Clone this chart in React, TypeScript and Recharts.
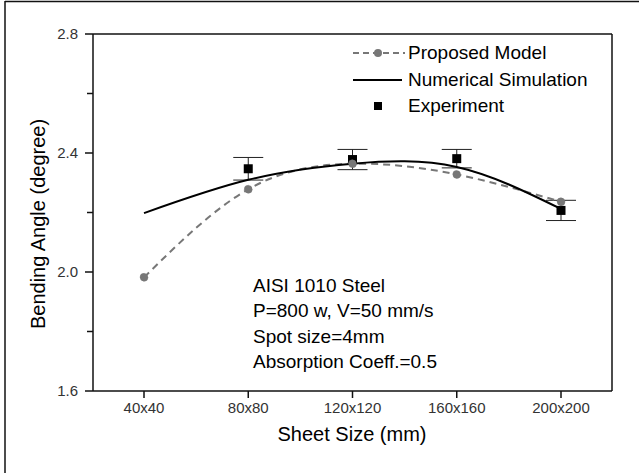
import { CartesianGrid, ComposedChart, ErrorBar, Legend, Line, Scatter, XAxis, YAxis } from 'recharts'

const sizes = ['40x40', '80x80', '120x120', '160x160', '200x200']
const proposed = [1.982, 2.278, 2.364, 2.328, 2.236]
const simulation = [2.198, 2.31, 2.364, 2.353, 2.212]
const experiment = [null, 2.347, 2.378, 2.381, 2.207]
const experimentErr = [null, 0.038, 0.034, 0.031, 0.034]
const yTicks = [1.6, 1.8, 2.0, 2.2, 2.4, 2.6, 2.8]
const notes = ['AISI 1010 Steel', 'P=800 w, V=50 mm/s', 'Spot size=4mm', 'Absorption Coeff.=0.5']

const data = sizes.map((size, i) => ({
  size,
  proposed: proposed[i],
  simulation: simulation[i],
  experiment: experiment[i],
  err: experimentErr[i],
}))

const font = "'Liberation Sans', Arial, sans-serif"
const axisStroke = { stroke: '#111', strokeWidth: 1.5 }
const grey = '#777'

const legendItems = [
  { name: 'Proposed Model', kind: 'dash' },
  { name: 'Numerical Simulation', kind: 'line' },
  { name: 'Experiment', kind: 'square' },
]

function LegendBox() {
  return (
    <div style={{ fontFamily: font, fontSize: 19, color: '#000' }}>
      {legendItems.map((item) => (
        <div key={item.name} style={{ display: 'flex', alignItems: 'center', height: 26.5 }}>
          <svg width={56} height={26} style={{ display: 'block' }}>
            {item.kind === 'dash' && (
              <>
                <line x1={1} y1={13} x2={53} y2={13} stroke={grey} strokeWidth={2} strokeDasharray='6 4' />
                <circle cx={26} cy={13} r={4} fill={grey} />
              </>
            )}
            {item.kind === 'line' && <line x1={1} y1={13} x2={50} y2={13} stroke='#000' strokeWidth={2} />}
            {item.kind === 'square' && <rect x={22} y={9} width={8} height={8} fill='#000' />}
          </svg>
          <span>{item.name}</span>
        </div>
      ))}
    </div>
  )
}

// experiment has no value at 40x40, so skip that point
function Square(p: any) {
  if (p.payload == null || p.payload.experiment == null || p.cx == null || p.cy == null) return <g />
  return <rect x={p.cx - 4.5} y={p.cy - 4.5} width={9} height={9} fill='#000' />
}

// labelled ticks every 0.4, shorter unlabelled ticks in between
const TICK = 8
const GAP = 7
function YTick(p: any) {
  const v = p.payload.value as number
  const major = Math.round(v * 10) % 4 === 0
  const edge = p.x + TICK + GAP
  return (
    <g>
      <line x1={edge - (major ? TICK : 6)} y1={p.y} x2={edge} y2={p.y} stroke='#111' strokeWidth={1.5} />
      {major && (
        <text x={p.x} y={p.y} dy='0.355em' textAnchor='end' fontSize={15} fill='#333'>
          {v.toFixed(1)}
        </text>
      )}
    </g>
  )
}

export default function App() {
  return (
    <div style={{ position: 'absolute', left: 0, top: 0, width: 639, height: 473, background: '#fff' }}>
      <ComposedChart
        width={639}
        height={473}
        data={data}
        margin={{ top: 34, right: 27, bottom: 52, left: 0 }}
        style={{ fontFamily: font }}
      >
        {/* top and right frame of the plot box */}
        <CartesianGrid
          stroke='#111'
          strokeWidth={1.5}
          horizontalCoordinatesGenerator={({ offset }: any) => [offset.top]}
          verticalCoordinatesGenerator={({ offset }: any) => [offset.left + offset.width]}
        />
        <XAxis
          dataKey='size'
          type='category'
          padding={{ left: 51, right: 51 }}
          height={30}
          axisLine={axisStroke}
          tickLine={axisStroke}
          tickSize={7}
          tickMargin={4}
          tick={{ fill: '#333', fontSize: 15 }}
          interval={0}
        />
        <YAxis
          domain={[1.6, 2.8]}
          ticks={yTicks}
          width={93}
          axisLine={axisStroke}
          tickLine={false}
          tickSize={TICK}
          tickMargin={GAP}
          tick={YTick}
          interval={0}
        />
        <Scatter dataKey='experiment' fill='#000' isAnimationActive={false} shape={Square}>
          <ErrorBar dataKey='err' direction='y' width={15} stroke='#222' strokeWidth={1} />
        </Scatter>
        <Line
          dataKey='proposed'
          type='natural'
          stroke={grey}
          strokeWidth={2}
          strokeDasharray='7 5'
          dot={{ r: 4, fill: grey, stroke: grey, strokeWidth: 0.5 }}
          isAnimationActive={false}
        />
        <Line
          dataKey='simulation'
          type='natural'
          stroke='#000'
          strokeWidth={2}
          dot={false}
          isAnimationActive={false}
        />
        <Legend
          layout='horizontal'
          align='center'
          verticalAlign='middle'
          content={() => <LegendBox />}
          wrapperStyle={{ position: 'absolute', left: 352, top: 40, width: 260 }}
        />
      </ComposedChart>
      <svg
        width={639}
        height={473}
        style={{ position: 'absolute', left: 0, top: 0, pointerEvents: 'none', fontFamily: font }}
      >
        <line x1={5} y1={1.5} x2={639} y2={1.5} stroke='#111' strokeWidth={1.5} />
        <line x1={5} y1={1} x2={5} y2={473} stroke='#111' strokeWidth={1.5} />
        <text
          x={38}
          y={224}
          transform='rotate(-90 38 224)'
          textAnchor='middle'
          dominantBaseline='central'
          fontSize={20}
          fill='#000'
        >
          Bending Angle (degree)
        </text>
        <text x={352} y={441} textAnchor='middle' fontSize={20} fill='#000'>
          Sheet Size (mm)
        </text>
        {notes.map((n, i) => (
          <text key={n} x={253} y={292 + i * 25.4} fontSize={19} fill='#000'>
            {n}
          </text>
        ))}
      </svg>
    </div>
  )
}
